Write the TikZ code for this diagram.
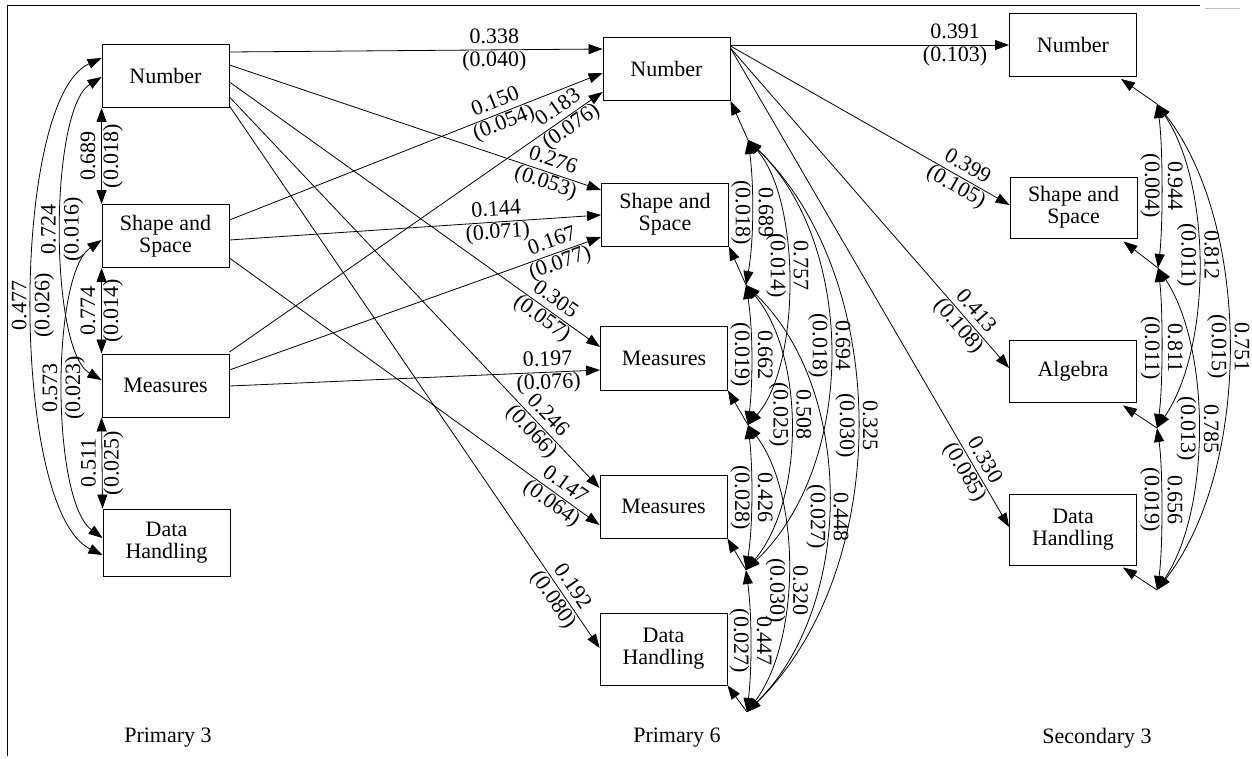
\documentclass[tikz,border=0pt]{standalone}
\usepackage{fontspec}
\setmainfont{Liberation Serif}
\usetikzlibrary{arrows.meta}
\begin{document}
\begin{tikzpicture}[x=1pt,y=-1pt,
  >={Triangle[length=14pt,width=10pt]},
  box/.style={draw, line width=0.9pt, minimum width=127pt, minimum height=63pt, inner sep=0pt, align=center, font=\fontsize{22}{22}\selectfont},
  lab/.style={font=\fontsize{22}{23}\selectfont, align=center, inner sep=0pt},
  ttl/.style={font=\fontsize{22}{22}\selectfont, inner sep=0pt},
  ed/.style={line width=0.8pt, ->},
  cov/.style={line width=0.8pt, <->}]
\useasboundingbox (0,0) rectangle (1252,758);
\draw[line width=0.8pt] (7,756) -- (7,5) -- (1200,5);
\draw[line width=0.6pt, gray!50] (1205,8) -- (1240,8);

% Primary 3
\node[box] (p3N) at (165.5,76) {Number};
\node[box] (p3S) at (165.5,236) {Shape and\\Space};
\node[box] (p3M) at (165.5,385.5) {Measures};
\node[box, minimum height=67pt] (p3D) at (166.5,542.5) {Data\\Handling};
% Primary 6
\node[box] (p6N) at (666.5,69) {Number};
\node[box] (p6S) at (665,214.5) {Shape and\\Space};
\node[box, minimum height=64pt] (p6M1) at (664,358) {Measures};
\node[box] (p6M2) at (663.5,506.5) {Measures};
\node[box, minimum height=72pt] (p6D) at (663.5,649) {Data\\Handling};
% Secondary 3
\node[box] (sN) at (1073,45) {Number};
\node[box, minimum height=61pt] (sS) at (1073.5,207.5) {Shape and\\Space};
\node[box, minimum height=62pt] (sA) at (1073,371) {Algebra};
\node[box, minimum height=71pt] (sD) at (1073,529.5) {Data\\Handling};

\node[ttl] (t1) at (168,738) {Primary 3};
\node[ttl] (t2) at (677,738) {Primary 6};
\node[ttl] (t3) at (1097,738) {Secondary 3};

% residual points
\coordinate (eN) at (748,140);
\coordinate (eS) at (746,285);
\coordinate (eM1) at (748,425);
\coordinate (eM2) at (746,570);
\coordinate (eD) at (747,712);
\coordinate (eSN) at (1157,104);
\coordinate (eSS) at (1158,268);
\coordinate (eSA) at (1157,428);
\coordinate (eSD) at (1157,590);

% Primary 3 correlations
\draw[cov] (p3N.south west) -- node[lab, rotate=90, midway] {0.689\\(0.018)} (p3S.north west);
\draw[cov] (p3S.south west) -- node[lab, rotate=90, midway] {0.774\\(0.014)} (p3M.north west);
\draw[cov] (p3M.south west) -- node[lab, rotate=90, midway] {0.511\\(0.025)} (p3D.north west);
\draw[cov] (p3N.west |- 0,58) .. controls (10,100) and (10,510) .. (p3D.west |- 0,555) node[lab, rotate=90, midway] {0.477\\(0.026)};
\draw[cov] (p3N.west |- 0,77) .. controls (49,110) and (49,350) .. (p3M.west |- 0,380) node[lab, rotate=90, midway] {0.724\\(0.016)};
\draw[cov] (p3S.west |- 0,240) .. controls (51,275) and (51,500) .. (p3D.west |- 0,538) node[lab, rotate=90, midway] {0.573\\(0.023)};

% Primary 3 -> Primary 6
\draw[ed] (p3N.east |- 0,52) -- node[lab, sloped, pos=0.71] {0.338\\(0.040)} (p6N.west |- 0,49);
\draw[ed] (p3S.east |- 0,220) -- node[lab, sloped, pos=0.725] {0.150\\(0.054)} (p6N.west |- 0,73);
\draw[ed] (p3M.east |- 0,352) -- node[lab, sloped, pos=0.9] {0.183\\(0.076)} (p6N.west |- 0,92);
\draw[ed] (p3N.east |- 0,65) -- node[lab, sloped, pos=0.86] {0.276\\(0.053)} (p6S.west |- 0,190);
\draw[ed] (p3S.east |- 0,240) -- node[lab, sloped, pos=0.72] {0.144\\(0.071)} (p6S.west |- 0,215);
\draw[ed] (p3M.east |- 0,370) -- node[lab, sloped, pos=0.88] {0.167\\(0.077)} (p6S.west |- 0,237);
\draw[ed] (p3N.east |- 0,82) -- node[lab, sloped, pos=0.86] {0.305\\(0.057)} (p6M1.west |- 0,347);
\draw[ed] (p3M.east |- 0,386) -- node[lab, sloped, pos=0.86] {0.197\\(0.076)} (p6M1.west |- 0,370);
\draw[ed] (p3N.east |- 0,97) -- node[lab, sloped, pos=0.837] {0.246\\(0.066)} (p6M2.west |- 0,488);
\draw[ed] (p3S.east |- 0,258) -- node[lab, sloped, pos=0.887] {0.147\\(0.064)} (p6M2.west |- 0,525);
\draw[ed] (p3N.east |- 0,106) -- node[lab, sloped, pos=0.9] {0.192\\(0.080)} (p6D.west |- 0,648);

% Primary 6 -> Secondary 3
\draw[ed] (p6N.east |- 0,45) -- node[lab, sloped, pos=0.806] {0.391\\(0.103)} (sN.west |- 0,45);
\draw[ed] (p6N.east |- 0,46) -- node[lab, sloped, pos=0.827] {0.399\\(0.105)} (sS.west |- 0,205);
\draw[ed] (p6N.east |- 0,48) -- node[lab, sloped, pos=0.848] {0.413\\(0.108)} (sA.west |- 0,368);
\draw[ed] (p6N.east |- 0,48) -- node[lab, sloped, pos=0.874] {0.330\\(0.085)} (sD.west |- 0,527);

% Primary 6 residual arrows
\draw[ed] (eN) -- (p6N.south east);
\draw[ed] (eS) -- (p6S.south east);
\draw[ed] (eM1) -- (p6M1.south east);
\draw[ed] (eM2) -- (p6M2.south east);
\draw[ed] (eD) -- (p6D.south east);

% Primary 6 covariances
\draw[cov] (eN) .. controls (754,185) and (754,240) .. (eS) node[lab, rotate=-90, midway] {0.689\\(0.018)};
\draw[cov] (eS) .. controls (753,330) and (753,380) .. (eM1) node[lab, rotate=-90, midway] {0.662\\(0.019)};
\draw[cov] (eM1) .. controls (753,470) and (753,525) .. (eM2) node[lab, rotate=-90, midway] {0.426\\(0.028)};
\draw[cov] (eM2) .. controls (752,615) and (752,667) .. (eD) node[lab, rotate=-90, midway] {0.447\\(0.027)};
\draw[cov] (eN) .. controls (801,200) and (801,365) .. (eM1) node[lab, rotate=-90, pos=0.45] {0.757\\(0.014)};
\draw[cov] (eS) .. controls (805,355) and (805,500) .. (eM2) node[lab, rotate=-90, pos=0.46] {0.508\\(0.025)};
\draw[cov] (eM1) .. controls (801,495) and (801,640) .. (eD) node[lab, rotate=-90, pos=0.57] {0.320\\(0.030)};
\draw[cov] (eN) .. controls (857,245) and (857,465) .. (eM2) node[lab, rotate=-90, pos=0.48] {0.694\\(0.018)};
\draw[cov] (eS) .. controls (855,390) and (855,605) .. (eD) node[lab, rotate=-90, pos=0.54] {0.448\\(0.027)};
\draw[cov] (eN) .. controls (893,280) and (893,570) .. (eD) node[lab, rotate=-90, midway] {0.325\\(0.030)};

% Secondary 3 residual arrows
\draw[ed] (eSN) -- ([xshift=-16pt,yshift=-2pt]sN.south east);
\draw[ed] (eSS) -- ([xshift=-14pt,yshift=-3pt]sS.south east);
\draw[ed] (eSA) -- ([xshift=-14pt,yshift=-3pt]sA.south east);
\draw[ed] (eSD) -- ([xshift=-14pt,yshift=-2pt]sD.south east);

% Secondary 3 covariances
\draw[cov] (eSN) .. controls (1163,145) and (1163,227) .. (eSS) node[lab, rotate=-90, midway] {0.944\\(0.004)};
\draw[cov] (eSS) .. controls (1163,308) and (1163,388) .. (eSA) node[lab, rotate=-90, midway] {0.811\\(0.011)};
\draw[cov] (eSA) .. controls (1163,468) and (1163,550) .. (eSD) node[lab, rotate=-90, pos=0.45] {0.656\\(0.019)};
\draw[cov] (eSN) .. controls (1212,185) and (1212,347) .. (eSA) node[lab, rotate=-90, pos=0.47] {0.812\\(0.011)};
\draw[cov] (eSS) .. controls (1211,348) and (1211,510) .. (eSD) node[lab, rotate=-90, midway] {0.785\\(0.013)};
\draw[cov] (eSN) .. controls (1252,225) and (1252,469) .. (eSD) node[lab, rotate=-90, pos=0.5] {0.751\\(0.015)};
\end{tikzpicture}
\end{document}
